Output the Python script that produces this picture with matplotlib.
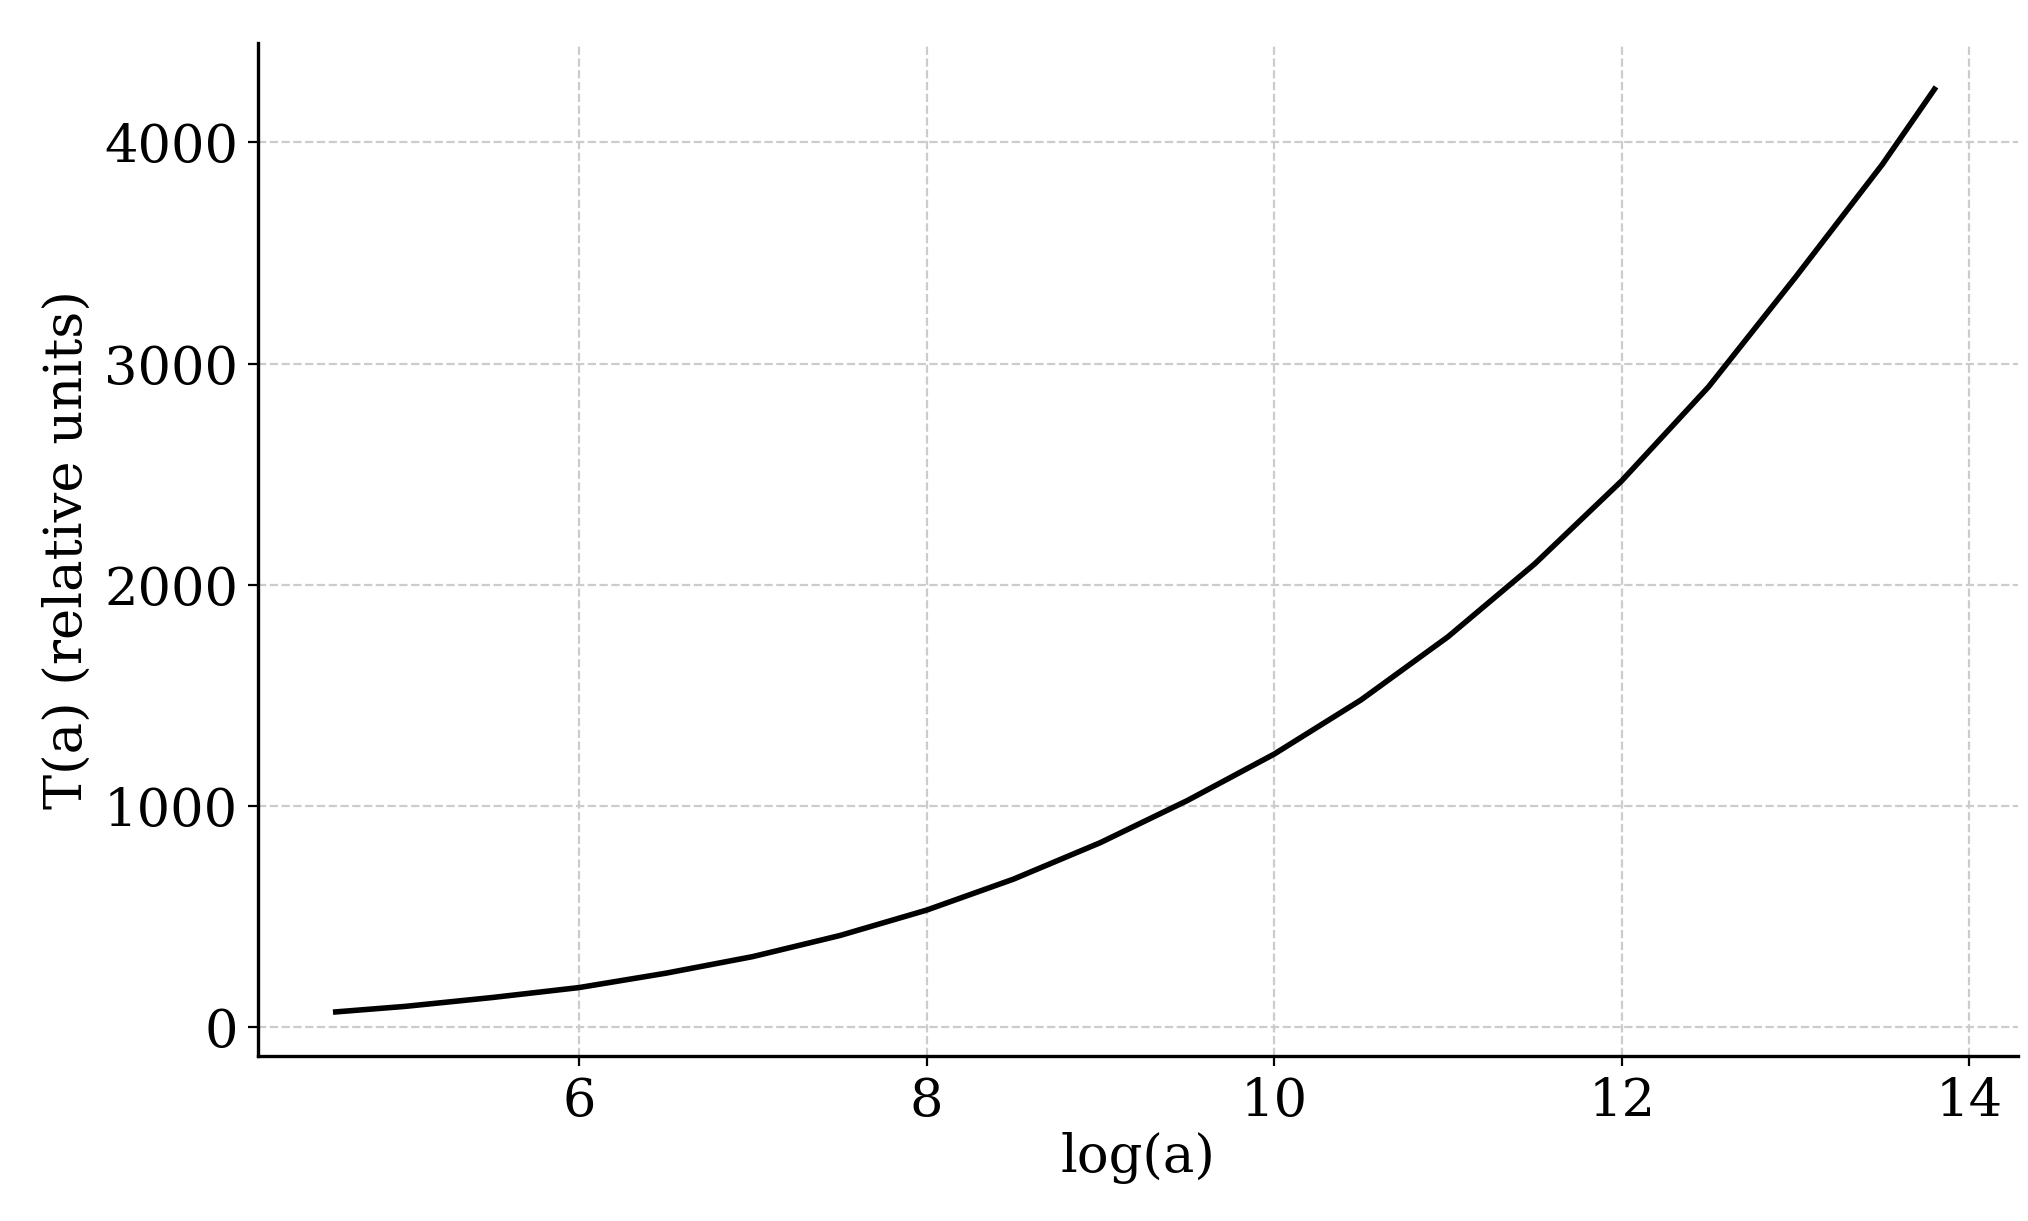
import matplotlib.pyplot as plt

log_a = [4.6, 5.0, 5.5, 6.0, 6.5, 7.0, 7.5, 8.0, 8.5, 9.0, 9.5, 10.0,
         10.5, 11.0, 11.5, 12.0, 12.5, 13.0, 13.5, 13.8]
t_a = [70, 95, 135, 180, 245, 320, 415, 530, 670, 835, 1025, 1235,
       1480, 1765, 2095, 2470, 2895, 3390, 3900, 4240]

plt.rcParams['font.family'] = 'DejaVu Serif'
plt.rcParams['font.size'] = 19

fig, ax = plt.subplots(figsize=(10.14, 6.105), dpi=200)
ax.plot(log_a, t_a, color='black', linewidth=2)
ax.set_xlabel('log(a)', labelpad=2)
ax.set_ylabel('T(a) (relative units)', labelpad=4)
ax.set_xticks([6, 8, 10, 12, 14])
ax.set_yticks([0, 1000, 2000, 3000, 4000])
ax.grid(color='#cccccc', linestyle='--', linewidth=0.8)
for s in ('top', 'right'):
    ax.spines[s].set_visible(False)
ax.spines['left'].set_linewidth(1.2)
ax.spines['bottom'].set_linewidth(1.2)
ax.set_ylim(-130, 4450)
ax.set_xlim(4.15, 14.28)
fig.subplots_adjust(left=0.127, right=0.995, top=0.965, bottom=0.135)
fig.savefig('out.png')
